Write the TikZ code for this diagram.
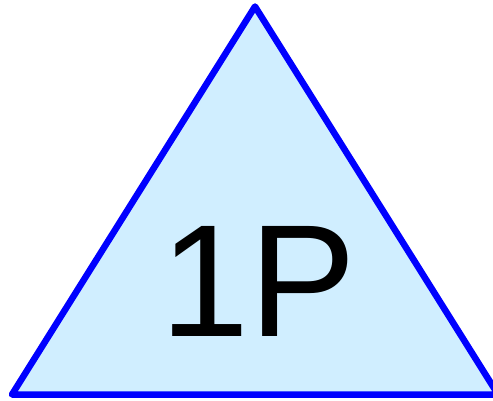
\documentclass[tikz,border=0pt]{standalone}
\usepackage{fontspec}
\setmainfont{Liberation Sans}
\definecolor{trifill}{RGB}{208,238,255}
\definecolor{triedge}{RGB}{0,0,255}
\tikzset{tri/.style={draw=triedge,fill=trifill,line width=6.5pt,line join=round}}
\begin{document}
\begin{tikzpicture}[x=1pt,y=1pt]
\useasboundingbox (0,0) rectangle (493,400);
\clip (0,0) rectangle (493,400);
\coordinate (top) at (255,393.5);
\coordinate (bl) at (12,5.5);
\coordinate (br) at (498,5.5);
\draw[tri] (top) -- (bl) -- (br) -- cycle;
\node[inner sep=0pt,font=\fontsize{160}{160}\selectfont] (lab) at (258.5,119) {1P};
\end{tikzpicture}
\end{document}
